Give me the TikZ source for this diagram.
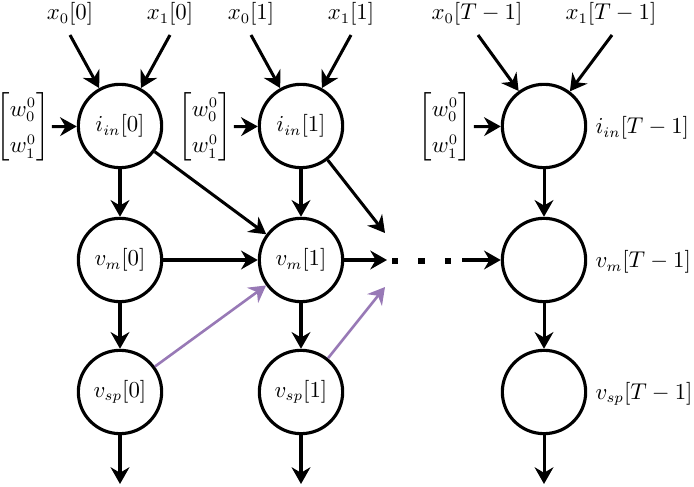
\documentclass[tikz,border=0pt]{standalone}
\usepackage{amsmath}
\usetikzlibrary{arrows.meta}
\definecolor{lav}{RGB}{152,121,182}
\newcommand{\wvec}{{\renewcommand{\arraystretch}{1.35}$\begin{bmatrix} w_0^0\\ w_1^0 \end{bmatrix}$}}
\begin{document}
\begin{tikzpicture}
  [x=0.48pt,y=-0.48pt,
   every node/.style={font=\fontsize{10.6}{13}\selectfont},
   neuron/.style={circle,draw,line width=1.5pt,minimum size=40pt,inner sep=0pt},
   lbl/.style={inner sep=1pt},
   edge/.style={line width=1.45pt,-{Stealth[length=8pt,width=9pt]}},
   recur/.style={edge,lav,line width=1.25pt}]
  \useasboundingbox (0,0) rectangle (694,487);

  % neurons
  \node[neuron] (in0) at (120,126) {$i_{in}[0]$};
  \node[neuron] (in1) at (301,126) {$i_{in}[1]$};
  \node[neuron] (inT) at (544,126) {};
  \node[neuron] (vm0) at (120,260) {$v_m[0]$};
  \node[neuron] (vm1) at (301,260) {$v_m[1]$};
  \node[neuron] (vmT) at (544,260) {};
  \node[neuron] (sp0) at (120,392) {$v_{sp}[0]$};
  \node[neuron] (sp1) at (301,392) {$v_{sp}[1]$};
  \node[neuron] (spT) at (544,392) {};

  % labels of last column
  \node[lbl,anchor=west] (linT) at (593,128) {$i_{in}[T-1]$};
  \node[lbl,anchor=west] (lvmT) at (593,262) {$v_m[T-1]$};
  \node[lbl,anchor=west] (lspT) at (593,394) {$v_{sp}[T-1]$};

  % inputs
  \node[lbl] (xa0) at (70,14)  {$x_0[0]$};
  \node[lbl] (xb0) at (170,14) {$x_1[0]$};
  \node[lbl] (xa1) at (251,14) {$x_0[1]$};
  \node[lbl] (xb1) at (351,14) {$x_1[1]$};
  \node[lbl] (xaT) at (477,14) {$x_0[T-1]$};
  \node[lbl] (xbT) at (611,14) {$x_1[T-1]$};
  \coordinate (sa0) at (70,35);
  \coordinate (sb0) at (170,35);
  \coordinate (sa1) at (251,35);
  \coordinate (sb1) at (351,35);
  \coordinate (saT) at (478,35);
  \coordinate (sbT) at (612,35);

  % weights
  \node[lbl] (w0) at (23,127)  {\wvec};
  \node[lbl] (w1) at (205,127) {\wvec};
  \node[lbl] (wT) at (445,127) {\wvec};

  % outputs and open ends
  \coordinate (o0) at (120,484);
  \coordinate (o1) at (301,484);
  \coordinate (oT) at (544,484);
  \coordinate (fi) at (385,233);
  \coordinate (fs) at (385,287);
  \coordinate (fm) at (387,260);
  \coordinate (dA) at (392,261);
  \coordinate (dB) at (451,261);
  \coordinate (fT) at (462,260);

  \foreach \from/\to in {sa0/in0,sb0/in0,sa1/in1,sb1/in1,saT/inT,sbT/inT}
    \draw[edge] (\from) -- (\to);

  \foreach \from/\to in {w0/in0,w1/in1,wT/inT,
                         in0/vm0,in1/vm1,inT/vmT,vm0/sp0,vm1/sp1,vmT/spT,
                         sp0/o0,sp1/o1,spT/oT,
                         in0/vm1,in1/fi,vm0/vm1,vm1/fm,fT/vmT}
    \draw[edge] (\from) -- (\to);

  \foreach \from/\to in {sp0/vm1,sp1/fs}
    \draw[recur] (\from) -- (\to);

  \draw[line width=2.9pt,dash pattern=on 2.9pt off 9.8pt] (dA) -- (dB);

\end{tikzpicture}
\end{document}
